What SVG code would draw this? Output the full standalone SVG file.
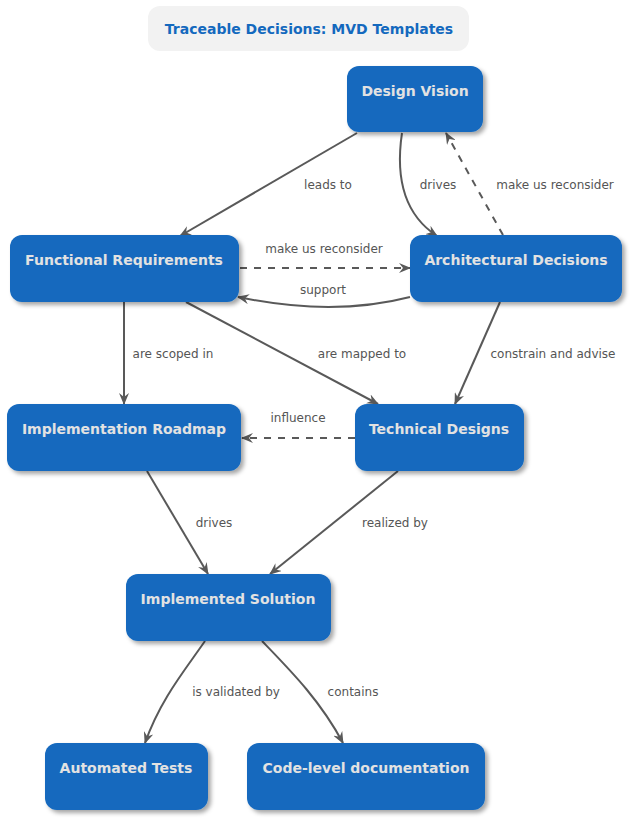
<svg xmlns="http://www.w3.org/2000/svg" width="633" height="822" viewBox="0 0 633 822">
<defs>
<filter id="sh" x="-10%" y="-10%" width="130%" height="140%">
<feDropShadow dx="3" dy="3" stdDeviation="2" flood-color="#000" flood-opacity="0.35"/>
</filter>
<marker id="ah" viewBox="0 0 12 10" refX="11" refY="5" markerWidth="12" markerHeight="10" markerUnits="userSpaceOnUse" orient="auto">
<path d="M0,0 L12,5 L0,10 L4,5 z" fill="#595959"/>
</marker>
<style>
.n rect{fill:#1469BE;filter:url(#sh);}
.n text{font-family:"DejaVu Sans",sans-serif;font-weight:bold;font-size:14px;fill:#E2E2E2;text-anchor:middle;}
.e path{fill:none;stroke:#595959;stroke-width:2;marker-end:url(#ah);}
.e path.d{stroke-dasharray:7,7;}
.l{font-family:"DejaVu Sans",sans-serif;font-size:12px;fill:#555;text-anchor:middle;}
</style>
</defs>
<rect width="633" height="822" fill="#fff"/>
<g id="title">
<rect x="148" y="6" width="321" height="45" rx="12" fill="#F2F2F2"/>
<text x="309" y="34" font-family="DejaVu Sans,sans-serif" font-weight="bold" font-size="14" fill="#1469BE" text-anchor="middle">Traceable Decisions: MVD Templates</text>
</g>
<g id="connectors" class="e">
<path d="M357,133 L180,236"/>
<path d="M402,133 C395,180 405,215 437,236"/>
<path class="d" d="M503,235 L446,133"/>
<path class="d" d="M240,268 L410,268"/>
<path d="M410,297 C360,310 300,310 238,297"/>
<path d="M124,302 L124,404"/>
<path d="M186,302 L378,404"/>
<path d="M500,302 L455,404"/>
<path class="d" d="M355,438 L242,438"/>
<path d="M147,471 L208,574"/>
<path d="M398,471 L270,574"/>
<path d="M205,641 C185,670 160,700 145,743"/>
<path d="M262,641 C290,670 320,700 343,743"/>
</g>
<g id="labels">
<text class="l" x="328" y="189">leads to</text>
<text class="l" x="438" y="189">drives</text>
<text class="l" x="555" y="189">make us reconsider</text>
<text class="l" x="324" y="253">make us reconsider</text>
<text class="l" x="323" y="294">support</text>
<text class="l" x="173" y="358">are scoped in</text>
<text class="l" x="362" y="358">are mapped to</text>
<text class="l" x="553" y="358">constrain and advise</text>
<text class="l" x="298" y="422">influence</text>
<text class="l" x="214" y="527">drives</text>
<text class="l" x="395" y="527">realized by</text>
<text class="l" x="236" y="696">is validated by</text>
<text class="l" x="353" y="696">contains</text>
</g>
<g id="design-vision" class="n"><rect x="347" y="66" width="136" height="66" rx="12"/><text x="415" y="96">Design Vision</text></g>
<g id="functional-requirements" class="n"><rect x="10" y="235" width="229" height="67" rx="12"/><text x="124" y="265">Functional Requirements</text></g>
<g id="architectural-decisions" class="n"><rect x="410" y="235" width="212" height="67" rx="12"/><text x="516" y="265">Architectural Decisions</text></g>
<g id="implementation-roadmap" class="n"><rect x="7" y="404" width="234" height="67" rx="12"/><text x="124" y="434">Implementation Roadmap</text></g>
<g id="technical-designs" class="n"><rect x="355" y="404" width="169" height="67" rx="12"/><text x="439" y="434">Technical Designs</text></g>
<g id="implemented-solution" class="n"><rect x="126" y="574" width="205" height="67" rx="12"/><text x="228" y="604">Implemented Solution</text></g>
<g id="automated-tests" class="n"><rect x="45" y="743" width="163" height="67" rx="12"/><text x="126" y="773">Automated Tests</text></g>
<g id="code-level-documentation" class="n"><rect x="247" y="743" width="238" height="67" rx="12"/><text x="366" y="773">Code-level documentation</text></g>
</svg>
